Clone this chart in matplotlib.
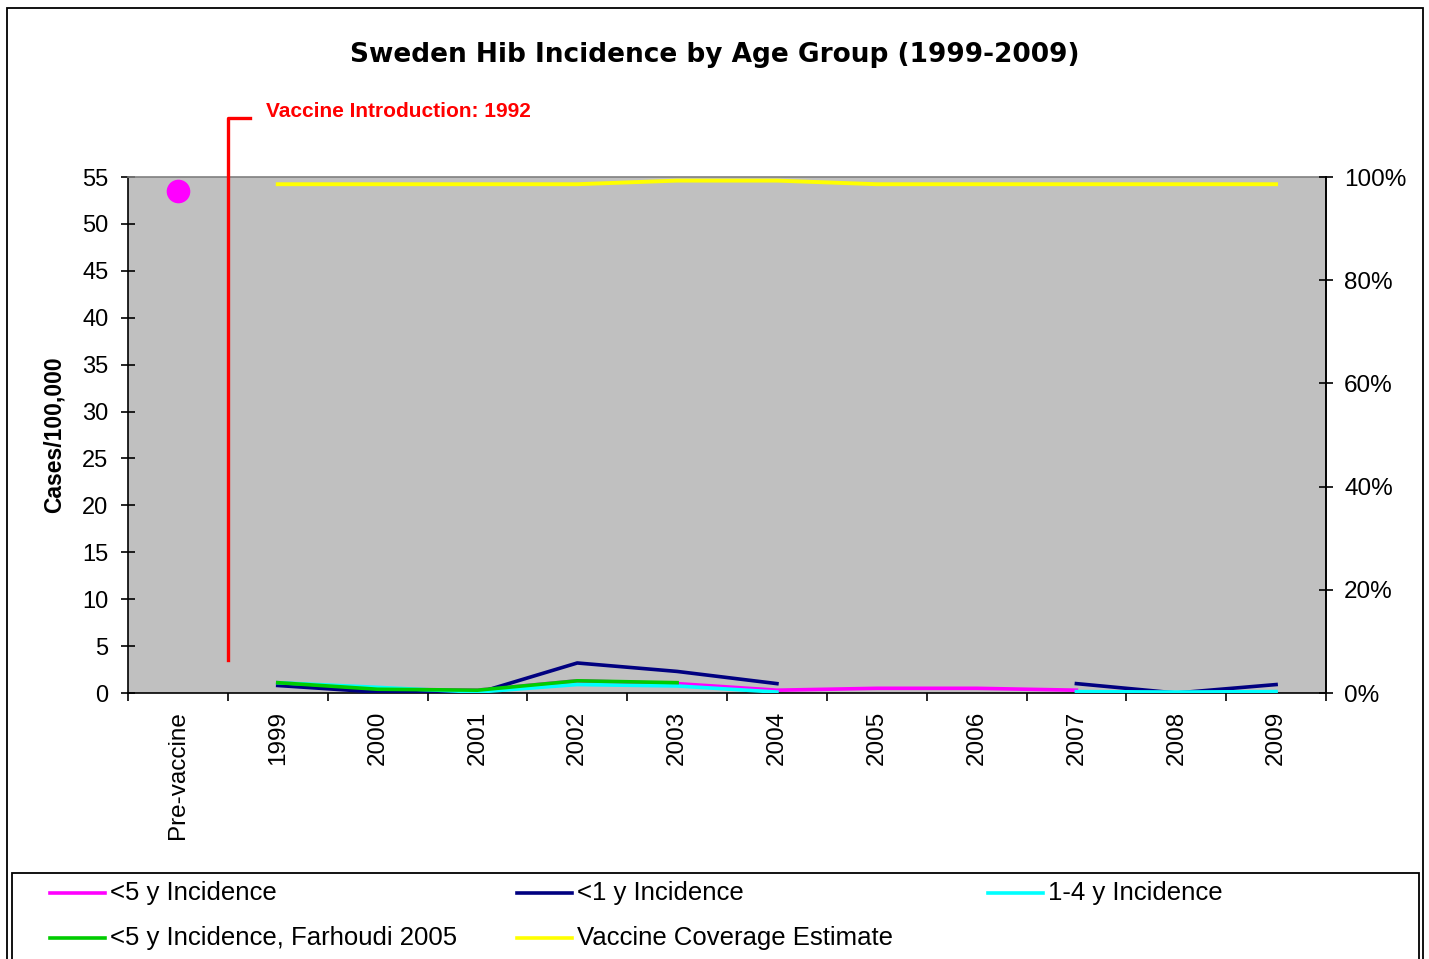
import numpy as np
import matplotlib
matplotlib.use("Agg")
import matplotlib.pyplot as plt
from matplotlib.lines import Line2D
from matplotlib.patches import Rectangle
from matplotlib.ticker import FuncFormatter

plt.rcParams['font.family'] = ['Liberation Sans', 'DejaVu Sans']

nan = np.nan

# Categories along the x axis
categories = ['Pre-vaccine', '1999', '2000', '2001', '2002', '2003',
              '2004', '2005', '2006', '2007', '2008', '2009']

# Incidence (cases per 100,000)
prevaccine_under5 = 53.5
under5 = [nan, 1.1, 0.4, 0.3, 1.3, 1.0, 0.3, 0.5, 0.5, 0.3, nan, nan]
under1 = [nan, 0.8, 0.1, 0.0, 3.2, 2.3, 1.0, nan, nan, 1.0, 0.0, 0.9]
age1_4 = [nan, 1.1, 0.6, 0.1, 0.9, 0.75, 0.1, nan, nan, 0.15, 0.1, 0.15]
farhoudi_under5 = [nan, 1.1, 0.4, 0.3, 1.3, 1.1, nan, nan, nan, nan, nan, nan]

# Vaccine coverage estimate (percent)
coverage = [nan, 98.6, 98.6, 98.6, 98.6, 99.3, 99.3, 98.6, 98.6, 98.6, 98.6, 98.6]

vaccine_year_label = 'Vaccine Introduction: 1992'
title = 'Sweden Hib Incidence by Age Group (1999-2009)'

legend_labels = ['<5 y Incidence', '<1 y Incidence', '1-4 y Incidence',
                 '<5 y Incidence, Farhoudi 2005', 'Vaccine Coverage Estimate']
colors = ['#FF00FF', '#000080', '#00FFFF', '#00CC00', '#FFFF00']

W, H = 1429, 959
fig = plt.figure(figsize=(W / 100, H / 100), dpi=100)
fig.patch.set_facecolor('white')


def fx(px):
    return px / W


def fy(py):
    return 1 - py / H


# outer chart frame
fig.add_artist(Rectangle((fx(7), fy(975)), fx(1423) - fx(7), fy(8) - fy(975),
                         transform=fig.transFigure, fill=False,
                         edgecolor='black', linewidth=1.3))

ax = fig.add_axes([fx(128), fy(693), fx(1326) - fx(128), fy(177) - fy(693)])
ax.set_facecolor('#C0C0C0')
x = np.arange(len(categories))
ax.set_xlim(-0.5, len(categories) - 0.5)
ax.set_ylim(0, 55)

lw = 2.6
ax.plot(x, under5, color=colors[0], lw=lw, zorder=3)
ax.plot([0], [prevaccine_under5], 'o', color=colors[0], markersize=16, zorder=3)
ax.plot(x, under1, color=colors[1], lw=lw, zorder=4)
ax.plot(x, age1_4, color=colors[2], lw=lw, zorder=5)
ax.plot(x, farhoudi_under5, color=colors[3], lw=lw, zorder=6)

ax.set_yticks(np.arange(0, 56, 5))
ax.tick_params(axis='y', direction='inout', length=10, width=1.2,
               labelsize=17, pad=9, colors='black')
ax.set_xticks(np.arange(-0.5, len(categories), 1.0))
ax.set_xticklabels([])
ax.set_xticks(x, minor=True)
ax.set_xticklabels(categories, minor=True, rotation=90, fontsize=17.5)
ax.tick_params(axis='x', which='major', direction='out', length=6, width=1.2)
ax.tick_params(axis='x', which='minor', length=0, pad=13)
for lab in ax.get_xticklabels(minor=True):
    lab.set_verticalalignment('top')

ax.spines['left'].set_linewidth(1.2)
ax.spines['bottom'].set_linewidth(1.2)
ax.spines['top'].set_color('#808080')
ax.spines['top'].set_linewidth(1.2)
ax.spines['right'].set_linewidth(1.2)

ax.set_ylabel('Cases/100,000', fontsize=16.5, fontweight='bold', labelpad=12)

# secondary axis for coverage
ax2 = ax.twinx()
ax2.set_ylim(0, 100)
ax2.plot(x, coverage, color=colors[4], lw=2.8, zorder=7)
ax2.set_yticks(np.arange(0, 101, 20))
ax2.yaxis.set_major_formatter(FuncFormatter(lambda v, p: f'{v:.0f}%'))
ax2.tick_params(axis='y', direction='inout', length=10, width=1.2,
                labelsize=17.5, pad=8)
for s in ['left', 'bottom', 'top']:
    ax2.spines[s].set_visible(False)
ax2.spines['right'].set_linewidth(1.2)

# vaccine introduction marker
ax.plot([0.5, 0.5, 0.72], [3.5, 61.3, 61.3], color='red', lw=2.4,
        clip_on=False, zorder=8)
ax.text(0.88, 62.0, vaccine_year_label, color='red', fontsize=15,
        fontweight='bold', va='center', ha='left', clip_on=False)

fig.text(fx(715), fy(55), title, ha='center', va='center', fontsize=19,
         fontweight='bold', family='DejaVu Sans')

# legend panel
fig.add_artist(Rectangle((fx(12), fy(975)), fx(1419) - fx(12), fy(873) - fy(975),
                         transform=fig.transFigure, fill=False,
                         edgecolor='black', linewidth=1.3))
slots = [(50, 893), (517, 893), (988, 893), (50, 938), (517, 938)]
for (px, py), lab, col in zip(slots, legend_labels, colors):
    fig.add_artist(Line2D([fx(px), fx(px + 55)], [fy(py), fy(py)],
                          transform=fig.transFigure, color=col, lw=2.6))
    fig.text(fx(px + 60), fy(py), lab, ha='left', va='center', fontsize=18.5)

fig.savefig('out.png', dpi=100, facecolor='white')
